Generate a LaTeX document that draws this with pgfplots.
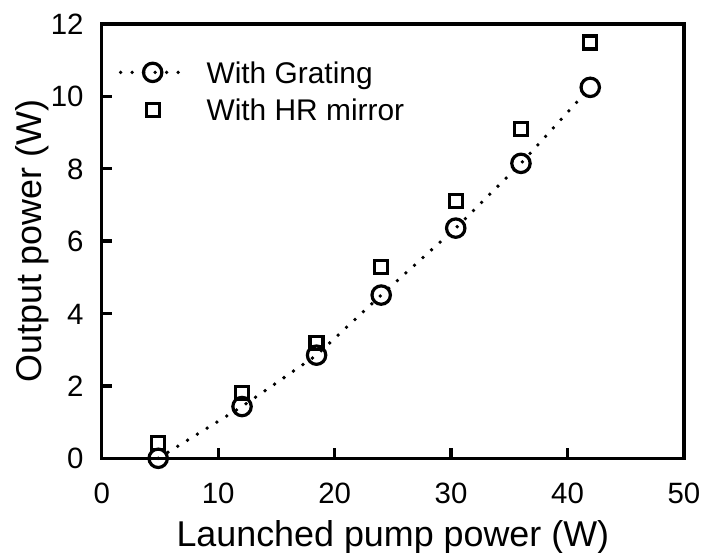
\documentclass[border=0pt]{standalone}
\usepackage{pgfplots}
\pgfplotsset{compat=1.18}
\usepackage{fontspec}
\setmainfont{Liberation Sans}
\pgfplotsset{mylegend/.style={legend image code/.code={%
    \draw[##1, mark repeat=2, mark phase=2] plot coordinates {(0bp,0bp) (32bp,0bp) (64bp,0bp)};}}}
\begin{document}
\begin{tikzpicture}
\begin{axis}[
  scale only axis,
  width=582.3bp, height=434.3bp,
  xmin=0, xmax=50, ymin=0, ymax=12,
  xtick={0,10,...,50}, ytick={0,2,...,12},
  tick align=inside,
  xtick pos=bottom, ytick pos=left,
  major tick length=10.5bp,
  axis line style={line width=3.3bp},
  every tick/.style={line width=3.3bp, black},
  tick label style={font=\fontsize{29.5}{33}\selectfont, inner sep=0pt},
  /pgf/number format/assume math mode=true,
  xticklabel style={anchor=base, yshift=-45bp},
  yticklabel style={anchor=base east, xshift=-18bp, yshift=-10.5bp},
  label style={font=\fontsize{36}{40}\selectfont, inner sep=0pt},
  xlabel={Launched pump power (W)},
  ylabel={Output power (W)},
  xlabel style={at={(axis description cs:0.5,-0.202)}, anchor=base},
  ylabel style={at={(axis description cs:-0.103,0.5)}, anchor=base, rotate=0},
  clip=false,
  legend style={at={(0.029,0.8457)}, anchor=west, draw=none, fill=none,
    font=\fontsize{30}{34}\selectfont, row sep=15.6bp, inner sep=0pt,
    nodes={inner sep=0pt, text depth=0pt}},
  legend cell align=left,
  /tikz/every odd column/.append style={column sep=20bp},
]
\addplot[black, line width=3.8bp, dash pattern=on 0bp off 11.5bp, line cap=round,
  mark=o, mark size=9.2bp, mark options={solid, line width=3.2bp}, mylegend]
  coordinates {(4.85,0) (12.05,1.43) (18.45,2.85) (24,4.51) (30.4,6.36) (36,8.15) (41.95,10.25)};
\addlegendentry{With Grating}
\addplot[black, only marks, mark=square, mark size=6.5bp, mark options={line width=3.2bp}, mylegend]
  coordinates {(4.85,0.43) (12.05,1.81) (18.45,3.19) (24,5.28) (30.4,7.11) (36,9.09) (41.95,11.49)};
\addlegendentry{With HR mirror}
\end{axis}
\pgfresetboundingbox
\path[use as bounding box] ([shift={(-101.7bp,-94.7bp)}]current axis.south west) rectangle ([shift={(17bp,24bp)}]current axis.north east);
\end{tikzpicture}
\end{document}
